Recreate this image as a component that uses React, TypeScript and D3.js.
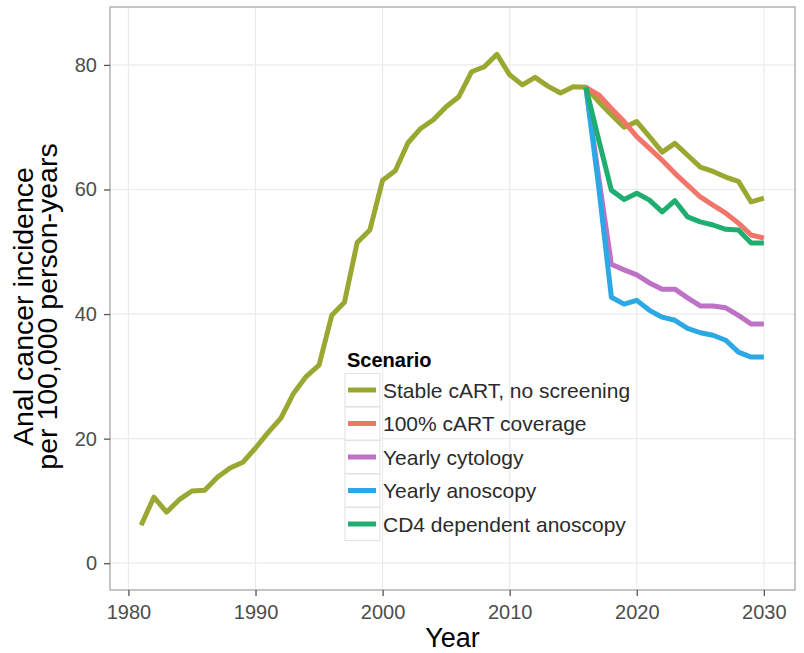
import { useEffect, useRef } from 'react'
import * as d3 from 'd3'

const years = [
    1981, 1982, 1983, 1984, 1985, 1986, 1987, 1988, 1989, 1990,
    1991, 1992, 1993, 1994, 1995, 1996, 1997, 1998, 1999, 2000,
    2001, 2002, 2003, 2004, 2005, 2006, 2007, 2008, 2009, 2010,
    2011, 2012, 2013, 2014, 2015, 2016, 2017, 2018, 2019, 2020,
    2021, 2022, 2023, 2024, 2025, 2026, 2027, 2028, 2029, 2030,
]
const stableCart = [
    6.1, 10.6, 8.2, 10.2, 11.6, 11.7, 13.8, 15.3, 16.2, 18.5,
    21.0, 23.3, 27.3, 30.0, 31.8, 39.8, 41.9, 51.5, 53.5, 61.5,
    63.0, 67.5, 69.8, 71.2, 73.3, 74.9, 78.9, 79.7, 81.7, 78.4,
    76.8, 78.0, 76.6, 75.5, 76.5, 76.4, 74.1, 72.0, 70.0, 70.9,
    68.5, 66.0, 67.4, 65.5, 63.6, 62.9, 62.0, 61.3, 58.0, 58.6,
]
// scenarios start at 2016
const projYears = [2016, 2017, 2018, 2019, 2020, 2021, 2022, 2023, 2024, 2025, 2026, 2027, 2028, 2029, 2030]
const fullCart = [76.4, 75.2, 73.0, 70.9, 68.5, 66.6, 64.7, 62.6, 60.7, 58.8, 57.5, 56.2, 54.6, 52.7, 52.2]
const cytology = [76.4, 62.0, 48.0, 47.1, 46.3, 45.0, 44.0, 44.0, 42.6, 41.3, 41.3, 41.0, 39.8, 38.4, 38.4]
const anoscopy = [76.4, 60.5, 42.7, 41.6, 42.2, 40.6, 39.5, 39.0, 37.7, 37.0, 36.6, 35.8, 33.9, 33.1, 33.1]
const cd4 = [76.4, 68.0, 59.9, 58.4, 59.4, 58.3, 56.4, 58.2, 55.6, 54.8, 54.3, 53.6, 53.5, 51.4, 51.4]

const scenarios = [
    'Stable cART, no screening',
    '100% cART coverage',
    'Yearly cytology',
    'Yearly anoscopy',
    'CD4 dependent anoscopy',
]
const colors = ['#9aa832', '#f2756a', '#bd72c6', '#2aa9e4', '#1fae70']
const xTicks = [1980, 1990, 2000, 2010, 2020, 2030]
const yTicks = [0, 20, 40, 60, 80]

const font = 'Liberation Sans, Arial, sans-serif'

const Chart = () => {
    const ref = useRef<SVGSVGElement | null>(null)

    useEffect(() => {
        if (!ref.current) return
        const width = 804
        const height = 653
        const left = 110
        const right = 795
        const top = 7
        const bottom = 590

        const svg = d3.select(ref.current).attr('width', width).attr('height', height)
        svg.selectAll('*').remove()

        const x = d3.scaleLinear().domain([1978.55, 2032.45]).range([left, right])
        const y = d3.scaleLinear().domain([-4.3, 89.3]).range([bottom, top])

        // grid
        svg.append('g')
            .selectAll('line')
            .data(xTicks)
            .join('line')
            .attr('x1', d => x(d)).attr('x2', d => x(d))
            .attr('y1', top).attr('y2', bottom)
            .attr('stroke', '#ebebeb').attr('stroke-width', 1.2)
        svg.append('g')
            .selectAll('line')
            .data(yTicks)
            .join('line')
            .attr('x1', left).attr('x2', right)
            .attr('y1', d => y(d)).attr('y2', d => y(d))
            .attr('stroke', '#ebebeb').attr('stroke-width', 1.2)

        const series = [
            years.map((yr, i) => [yr, stableCart[i]] as [number, number]),
            projYears.map((yr, i) => [yr, fullCart[i]] as [number, number]),
            projYears.map((yr, i) => [yr, cytology[i]] as [number, number]),
            projYears.map((yr, i) => [yr, anoscopy[i]] as [number, number]),
            projYears.map((yr, i) => [yr, cd4[i]] as [number, number]),
        ]
        const line = d3.line<[number, number]>().x(d => x(d[0])).y(d => y(d[1]))

        svg.append('g')
            .selectAll('path')
            .data(series)
            .join('path')
            .attr('d', d => line(d))
            .attr('fill', 'none')
            .attr('stroke', (_, i) => colors[i])
            .attr('stroke-width', 5)
            .attr('stroke-linejoin', 'round')

        // panel border
        svg.append('rect')
            .attr('x', left).attr('y', top)
            .attr('width', right - left).attr('height', bottom - top)
            .attr('fill', 'none').attr('stroke', '#a6a6a6').attr('stroke-width', 1.3)

        // axes
        const xAxis = svg.append('g')
            .attr('transform', `translate(0,${bottom})`)
            .call(d3.axisBottom(x).tickValues(xTicks).tickFormat(d3.format('d')).tickSize(6).tickPadding(9))
        const yAxis = svg.append('g')
            .attr('transform', `translate(${left},0)`)
            .call(d3.axisLeft(y).tickValues(yTicks).tickSize(6).tickPadding(7))
        for (const ax of [xAxis, yAxis]) {
            ax.select('.domain').remove()
            ax.selectAll('line').attr('stroke', '#555').attr('stroke-width', 1.3)
            ax.selectAll('text')
                .attr('fill', '#4d4d4d')
                .style('font-family', font)
                .style('font-size', '20px')
        }

        // titles
        svg.append('text')
            .attr('x', (left + right) / 2).attr('y', 647)
            .attr('text-anchor', 'middle')
            .style('font-family', font)
            .style('font-size', '27px')
            .text('Year')
        const yt = svg.append('text')
            .attr('transform', `translate(0,${(top + bottom) / 2 + 8}) rotate(-90)`)
            .attr('text-anchor', 'middle')
            .style('font-family', font)
            .style('font-size', '28.5px')
        yt.append('tspan').attr('x', 0).attr('y', 33).text('Anal cancer incidence')
        yt.append('tspan').attr('x', 0).attr('y', 57).text('per 100,000 person-years')

        // legend
        const lg = svg.append('g').attr('transform', 'translate(345,0)')
        lg.append('text')
            .attr('x', 2).attr('y', 367)
            .style('font-family', font)
            .style('font-size', '20px')
            .style('font-weight', 'bold')
            .text('Scenario')
        const rowY = d3.scaleLinear().domain([0, 4]).range([390, 524])
        const rows = lg.selectAll('g.row')
            .data(scenarios)
            .join('g')
            .attr('class', 'row')
            .attr('transform', (_, i) => `translate(0,${rowY(i)})`)
        rows.append('rect')
            .attr('x', 0).attr('y', -16.5).attr('width', 35).attr('height', 33)
            .attr('fill', '#fff').attr('stroke', '#e2e2e2').attr('stroke-width', 1)
        rows.append('line')
            .attr('x1', 3).attr('x2', 31)
            .attr('stroke', (_, i) => colors[i]).attr('stroke-width', 5)
        rows.append('text')
            .attr('x', 38).attr('y', 0).attr('dy', '0.36em')
            .attr('fill', '#2b2b2b')
            .style('font-family', font)
            .style('font-size', '21px')
            .text(d => d)
    }, [])

    return <svg ref={ref} style={{ position: 'absolute', left: 0, top: 0 }}></svg>
}

export default function App() {
    return <Chart />
}
